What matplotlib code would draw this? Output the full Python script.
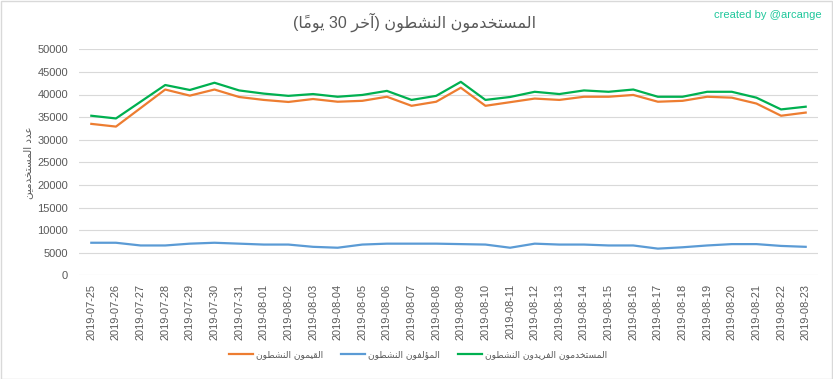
import matplotlib
matplotlib.use("Agg")
import matplotlib.pyplot as plt
from matplotlib.patches import Rectangle

# ---------------- data ----------------
dates = ["2019-07-25", "2019-07-26", "2019-07-27", "2019-07-28", "2019-07-29",
         "2019-07-30", "2019-07-31", "2019-08-01", "2019-08-02", "2019-08-03",
         "2019-08-04", "2019-08-05", "2019-08-06", "2019-08-07", "2019-08-08",
         "2019-08-09", "2019-08-10", "2019-08-11", "2019-08-12", "2019-08-13",
         "2019-08-14", "2019-08-15", "2019-08-16", "2019-08-17", "2019-08-18",
         "2019-08-19", "2019-08-20", "2019-08-21", "2019-08-22", "2019-08-23"]

curators = [33500, 32900, 37000, 41100, 39750, 41100, 39450, 38800, 38350, 39000,
            38400, 38600, 39500, 37500, 38400, 41500, 37500, 38300, 39100, 38800,
            39500, 39500, 39900, 38400, 38600, 39500, 39300, 38000, 35300, 36000]

authors = [7200, 7200, 6600, 6600, 7000, 7200, 7000, 6800, 6800, 6300,
           6100, 6800, 7000, 7000, 7000, 6900, 6800, 6100, 7000, 6800,
           6800, 6600, 6600, 5900, 6200, 6600, 6900, 6900, 6500, 6300]

unique_users = [35300, 34700, 38400, 42100, 41000, 42600, 40900, 40200, 39700, 40100,
                39500, 39900, 40800, 38800, 39700, 42800, 38800, 39450, 40600, 40100,
                40900, 40600, 41100, 39500, 39500, 40600, 40600, 39300, 36700, 37300]

y_ticks = [0, 5000, 10000, 15000, 20000, 25000, 30000, 35000, 40000, 45000, 50000]

title_text = "المستخدمون النشطون (آخر 30 يومًا)"
ylabel_text = "عدد المستخدمين"
legend_labels = ["القيمون النشطون", "المؤلفون النشطون", "المستخدمون الفريدون النشطون"]
credit_text = "created by @arcange"

# ---------------- Arabic shaping (presentation forms + visual order) ----------------
FORMS = {
    '\u0627': ('\uFE8D', '\uFE8E', None, None),
    '\u0622': ('\uFE81', '\uFE82', None, None),
    '\u0624': ('\uFE85', '\uFE86', None, None),
    '\u062A': ('\uFE95', '\uFE96', '\uFE97', '\uFE98'),
    '\u062E': ('\uFEA5', '\uFEA6', '\uFEA7', '\uFEA8'),
    '\u062F': ('\uFEA9', '\uFEAA', None, None),
    '\u0631': ('\uFEAD', '\uFEAE', None, None),
    '\u0633': ('\uFEB1', '\uFEB2', '\uFEB3', '\uFEB4'),
    '\u0634': ('\uFEB5', '\uFEB6', '\uFEB7', '\uFEB8'),
    '\u0637': ('\uFEC1', '\uFEC2', '\uFEC3', '\uFEC4'),
    '\u0639': ('\uFEC9', '\uFECA', '\uFECB', '\uFECC'),
    '\u0641': ('\uFED1', '\uFED2', '\uFED3', '\uFED4'),
    '\u0642': ('\uFED5', '\uFED6', '\uFED7', '\uFED8'),
    '\u0644': ('\uFEDD', '\uFEDE', '\uFEDF', '\uFEE0'),
    '\u0645': ('\uFEE1', '\uFEE2', '\uFEE3', '\uFEE4'),
    '\u0646': ('\uFEE5', '\uFEE6', '\uFEE7', '\uFEE8'),
    '\u0648': ('\uFEED', '\uFEEE', None, None),
    '\u064A': ('\uFEF1', '\uFEF2', '\uFEF3', '\uFEF4'),
}
MARKS = {'\u064B'}
MIRROR = {'(': ')', ')': '('}


def ar(text):
    chars = list(text)
    n = len(chars)
    shaped = []
    for i, c in enumerate(chars):
        if c not in FORMS:
            shaped.append(c)
            continue
        p = i - 1
        while p >= 0 and chars[p] in MARKS:
            p -= 1
        q = i + 1
        while q < n and chars[q] in MARKS:
            q += 1
        jp = p >= 0 and chars[p] in FORMS and FORMS[chars[p]][2] is not None
        jn = FORMS[c][2] is not None and q < n and chars[q] in FORMS
        iso, fin, ini, med = FORMS[c]
        if jp and jn:
            shaped.append(med)
        elif jp:
            shaped.append(fin)
        elif jn:
            shaped.append(ini)
        else:
            shaped.append(iso)
    # keep digit runs left-to-right, reverse everything else
    clusters = []
    for c in shaped:
        if c.isdigit() and clusters and clusters[-1][-1].isdigit():
            clusters[-1] += c
        else:
            clusters.append(c)
    clusters.reverse()
    out = [MIRROR.get(c, c) for c in clusters]
    return "".join(out)


# ---------------- figure ----------------
W, H = 833, 379
fig = plt.figure(figsize=(W / 100, H / 100), dpi=100)
fig.patch.set_facecolor("white")

left, right = 79 / W, 818 / W
top, bottom = 1 - 49.3 / H, 1 - 275.3 / H
ax = fig.add_axes([left, bottom, right - left, top - bottom])

txt_col = "#595959"
num_font = ["Liberation Sans", "DejaVu Sans"]
ar_font = ["DejaVu Sans"]

x = list(range(len(dates)))
l1, = ax.plot(x, curators, color="#ED7D31", lw=1.6, solid_joinstyle="round", zorder=3)
l2, = ax.plot(x, authors, color="#5B9BD5", lw=1.6, solid_joinstyle="round", zorder=3)
l3, = ax.plot(x, unique_users, color="#00B050", lw=1.6, solid_joinstyle="round", zorder=3)

ax.set_xlim(-0.5, len(dates) - 0.5)
ax.set_ylim(0, 50000)
ax.set_yticks(y_ticks)
ax.set_yticklabels([str(v) for v in y_ticks], family=num_font, fontsize=8, color=txt_col)
ax.set_xticks(x)
ax.set_xticklabels(dates, rotation=90, family=num_font, fontsize=7.9, color=txt_col)
ax.tick_params(axis="both", length=0)
ax.tick_params(axis="y", pad=8)
ax.tick_params(axis="x", pad=6)
ax.grid(axis="y", color="#d9d9d9", lw=0.8)
ax.set_axisbelow(True)
for s in ax.spines.values():
    s.set_visible(False)

ax.set_ylabel(ar(ylabel_text), family=ar_font, fontsize=7.5, color=txt_col, labelpad=3)

fig.text(0.497, 1 - 22 / H, ar(title_text), family=num_font, fontsize=11.5,
         color=txt_col, ha="center", va="center")
fig.text(822 / W, 1 - 15 / H, credit_text, family=num_font, fontsize=8,
         color="#1FC79B", ha="right", va="center")

leg = fig.legend([l1, l2, l3], [ar(s) for s in legend_labels], loc="center",
                 bbox_to_anchor=(418 / W, 1 - 355 / H), ncol=3, frameon=False,
                 prop={"family": ar_font, "size": 6.6}, handlelength=2.6,
                 handletextpad=0.3, columnspacing=2.0)
for t in leg.get_texts():
    t.set_color(txt_col)

fig.patches.append(Rectangle((0.5 / W, 0.5 / H), 1 - 1.5 / W, 1 - 1.5 / H,
                             transform=fig.transFigure, fill=False,
                             edgecolor="#d9d9d9", lw=1.0))

fig.savefig("out.png", dpi=100, facecolor="white")
